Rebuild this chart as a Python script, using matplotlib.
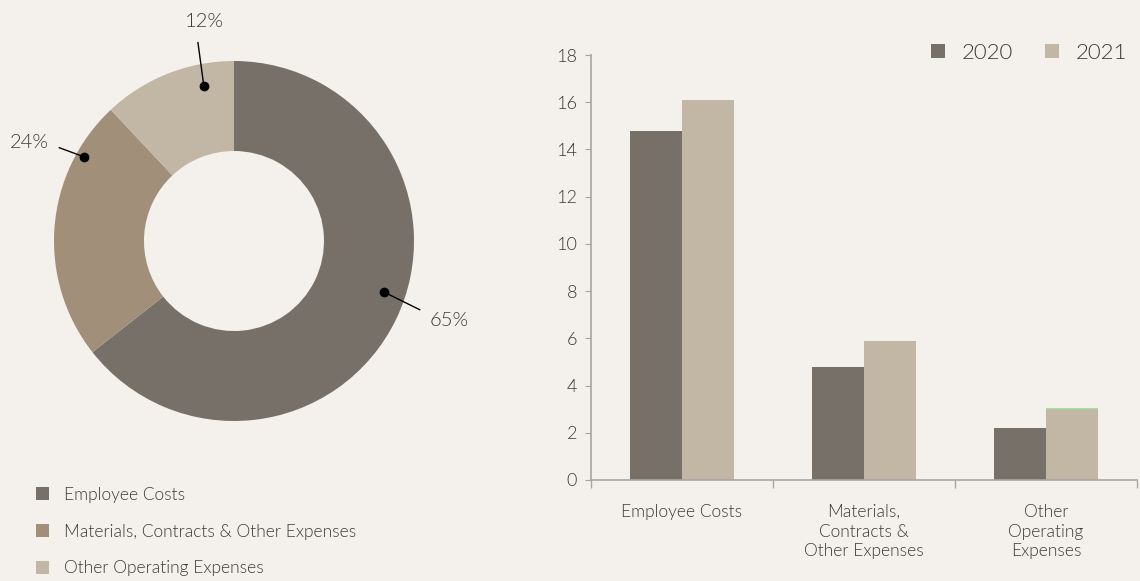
import numpy as np
import matplotlib
matplotlib.use("Agg")
import matplotlib.pyplot as plt

# Data
categories = ["Employee Costs", "Materials, Contracts & Other Expenses", "Other Operating Expenses"]
bar_labels = ["Employee Costs", "Materials,\nContracts &\nOther Expenses", "Other\nOperating\nExpenses"]
values_2020 = [14.8, 4.8, 2.2]
values_2021 = [16.1, 5.9, 3.0]
pct_labels = ["65%", "24%", "12%"]
years = ["2020", "2021"]

# Style
bg = "#f4f1ec"
colors = ["#767069", "#a18f79", "#c2b6a5"]
text_col = "#3d3a37"
axis_col = "#a9a6a2"

plt.rcParams['font.family'] = ['Lato', 'DejaVu Sans']
plt.rcParams['font.weight'] = 300

W, H = 1140, 581
fig = plt.figure(figsize=(W / 100, H / 100), dpi=100, facecolor=bg)

# ---- donut ----
cx, cy, r = 234, 241, 180
half = 1.25 * r
axp = fig.add_axes([(cx - half) / W, (H - cy - half) / H, 2 * half / W, 2 * half / H])
axp.set_facecolor(bg)
wedges, _ = axp.pie(values_2021, colors=colors, startangle=90, counterclock=False,
                    wedgeprops=dict(width=0.5, linewidth=0))
axp.set_xlim(-1.25, 1.25)
axp.set_ylim(-1.25, 1.25)

# leader line: (angle, radius) of dot, line end and text, per slice
dot_pos = [(-18.8, 0.88), (150.7, 0.955), (101, 0.88)]
end_pos = [(-20.3, 1.10), (151.9, 1.10), (100.3, 1.12)]
txt_pos = [(-20.3, 1.275), (154.2, 1.26), (97.7, 1.23)]

def polar(a, rr):
    t = np.deg2rad(a)
    return rr * np.cos(t), rr * np.sin(t)

for lab, d, e, tp in zip(pct_labels, dot_pos, end_pos, txt_pos):
    x0, y0 = polar(*d)
    x1, y1 = polar(*e)
    axp.plot([x0, x1], [y0, y1], color="black", lw=1)
    axp.plot(x0, y0, "o", color="black", ms=6)
    xt, yt = polar(*tp)
    axp.text(xt, yt, lab, ha="center", va="center", fontsize=14.5, color=text_col)

fig.legend(wedges, categories, loc="upper left", bbox_to_anchor=(27 / W, 1 - 478 / H),
           frameon=False, fontsize=12.5, handlelength=0.75, handleheight=0.75,
           handletextpad=0.9, labelspacing=1.2, labelcolor=text_col, borderpad=0)

# ---- bars ----
axb = fig.add_axes([591 / W, (H - 480) / H, 546 / W, 425 / H])
axb.set_facecolor(bg)
x = np.arange(len(bar_labels))
bw = 52 / 182
axb.bar(x - bw / 2, values_2020, bw, color=colors[0], label=years[0])
axb.bar(x + bw / 2, values_2021, bw, color=colors[2], label=years[1])
# thin green edge on top of last bar
axb.hlines(values_2021[-1], x[-1], x[-1] + bw, color="#9fd39a", lw=1.2)

axb.set_xlim(-0.5, 2.5)
axb.set_ylim(0, 18)
axb.set_yticks(np.arange(0, 19, 2))
axb.set_xticks([-0.5, 0.5, 1.5, 2.5])
axb.set_xticklabels([])
axb.set_xticks(x, minor=True)
axb.set_xticklabels(bar_labels, minor=True, fontsize=12.5, color=text_col, linespacing=1.3)
axb.tick_params(axis="x", which="major", length=6, color=axis_col, width=1)
axb.tick_params(axis="x", which="minor", length=0, pad=17)
axb.tick_params(axis="y", length=4, color=axis_col, labelsize=13, labelcolor=text_col, pad=6)
for s in ["top", "right"]:
    axb.spines[s].set_visible(False)
for s in ["left", "bottom"]:
    axb.spines[s].set_color(axis_col)
    axb.spines[s].set_linewidth(1.2)

axb.legend(loc="upper right", bbox_to_anchor=(1.003, 1.055), ncol=2, frameon=False,
           fontsize=16, handlelength=0.62, handleheight=0.62, handletextpad=0.77,
           columnspacing=1.45, labelcolor=text_col, borderpad=0)

fig.savefig("out.png", dpi=100, facecolor=bg)
